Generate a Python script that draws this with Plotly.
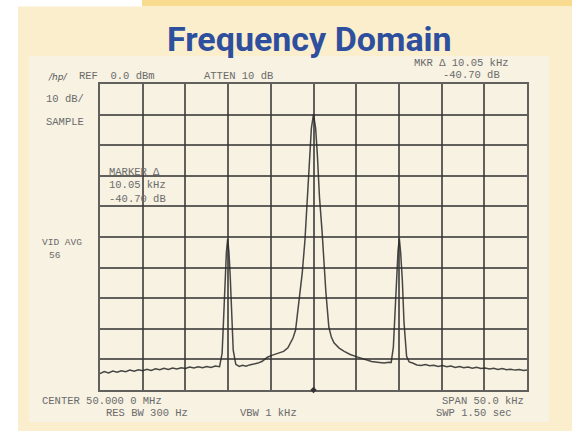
import plotly.graph_objects as go

W, H = 572, 437

# ---------------- data ----------------
# frequency offset from center (kHz), amplitude (dBm)
freq_khz = [
    -25.0, -24.5, -24.0, -23.5, -23.0, -22.5, -22.0, -21.5, -21.0, -20.5,
    -20.0, -19.5, -19.0, -18.5, -18.0, -17.5, -17.0, -16.5, -16.0, -15.5,
    -15.0, -14.5, -14.0, -13.5, -13.0, -12.5, -12.0, -11.5, -11.0,
    -10.7, -10.5, -10.35, -10.2, -10.05, -9.9, -9.75, -9.6, -9.4, -9.1,
    -8.7, -8.3, -7.9, -7.5, -7.0, -6.5, -6.0, -5.4, -4.8, -4.2, -3.5,
    -3.0, -2.7, -2.4, -2.1, -1.76, -1.32, -1.0, -0.7, -0.45, -0.25, 0.0,
    0.25, 0.45, 0.7, 1.0, 1.2, 1.45, 1.8, 2.1, 2.4, 3.0, 3.6, 4.3, 5.0,
    5.9, 6.8, 7.7, 8.3, 8.8, 9.1,
    9.35, 9.55, 9.75, 9.9, 10.05, 10.2, 10.4, 10.6, 10.9, 11.2,
    11.6, 12.1, 12.6, 13.1, 13.6, 14.1, 14.6, 15.1, 15.6, 16.1, 16.6,
    17.1, 17.6, 18.1, 18.6, 19.1, 19.6, 20.1, 20.6, 21.1, 21.6, 22.1,
    22.6, 23.1, 23.6, 24.1, 24.6, 25.0,
]
level_dbm = [
    -94.6, -94.0, -94.4, -93.8, -94.2, -93.7, -94.0, -93.5, -93.9, -93.4,
    -93.7, -93.2, -93.6, -93.1, -93.4, -92.9, -93.3, -92.8, -93.1, -92.7,
    -93.0, -92.5, -92.8, -92.4, -92.7, -92.3, -92.6, -92.2, -92.4,
    -88.0, -75.0, -63.0, -55.0, -50.7, -55.0, -63.0, -75.0, -87.0, -91.6,
    -92.3, -91.9, -92.2, -91.8, -91.6, -91.2, -90.6, -89.3, -88.6, -88.0, -87.4,
    -86.2, -84.8, -83.0, -80.4, -71.6, -61.8, -51.0, -37.0, -23.0, -14.5, -9.8,
    -14.5, -23.0, -37.0, -48.0, -58.0, -68.0, -79.5, -82.8, -84.6, -86.3, -87.4, -88.4, -89.1,
    -90.0, -90.7, -91.0, -91.2, -90.9, -91.0,
    -86.0, -73.0, -61.0, -54.5, -50.5, -55.0, -64.0, -78.0, -89.0, -90.8,
    -91.2, -91.8, -92.0, -91.7, -92.1, -91.9, -92.3, -92.0, -92.4, -92.2, -92.6,
    -92.3, -92.7, -92.5, -92.9, -92.6, -93.0, -92.8, -93.1, -92.9, -93.3, -93.0,
    -93.4, -93.2, -93.5, -93.3, -93.6, -93.5,
]

x_ticks = [-25, -20, -15, -10, -5, 0, 5, 10, 15, 20, 25]
y_ticks = [0, -10, -20, -30, -40, -50, -60, -70, -80, -90, -100]

title_text = "Frequency Domain"
header_left = ["REF  0.0 dBm", "ATTEN 10 dB"]
header_right = ["MKR \u0394 10.05 kHz", "-40.70 dB"]
side_labels = ["10 dB/", "SAMPLE", "VID AVG", "56"]
marker_box = ["MARKER \u0394", "10.05 kHz", "-40.70 dB"]
footer_labels = ["CENTER 50.000 0 MHz", "RES BW 300 Hz", "VBW 1 kHz",
                 "SPAN 50.0 kHz", "SWP 1.50 sec"]


def px(x):
    return x / W


def py(y):
    return 1 - y / H


fig = go.Figure()
fig.add_trace(go.Scatter(
    x=freq_khz, y=level_dbm, mode="lines",
    line=dict(color="rgba(40,40,40,0.85)", width=1.5),
    hoverinfo="skip", showlegend=False,
))
# marker symbol at bottom centre
fig.add_trace(go.Scatter(
    x=[0], y=[-100], mode="markers",
    marker=dict(symbol="diamond", size=5, color="#333"),
    showlegend=False, hoverinfo="skip", cliponaxis=False,
))

grid_col = "rgba(55,55,55,0.78)"
fig.update_xaxes(
    domain=[px(100), px(527)], range=[-25, 25], tickvals=x_ticks,
    showticklabels=False, showgrid=True, gridcolor=grid_col, gridwidth=1.5,
    zeroline=False, showline=True, linecolor=grid_col, linewidth=1.5,
    mirror=True, ticks="",
)
fig.update_yaxes(
    domain=[py(390), py(84)], range=[-100, 0], tickvals=y_ticks,
    showticklabels=False, showgrid=True, gridcolor=grid_col, gridwidth=1.5,
    zeroline=False, showline=True, linecolor=grid_col, linewidth=1.5,
    mirror=True, ticks="",
)

shapes = [
    # orange top stripe
    dict(type="rect", xref="paper", yref="paper", x0=px(142), x1=px(572),
         y0=py(6.5), y1=py(0), fillcolor="#F9DB90", line_width=0, layer="below"),
    # cream panel
    dict(type="rect", xref="paper", yref="paper", x0=px(18), x1=px(572),
         y0=py(431), y1=py(6.5), fillcolor="#FBEECC", line_width=0, layer="below"),
    # photo area
    dict(type="rect", xref="paper", yref="paper", x0=px(29), x1=px(549),
         y0=py(422), y1=py(56), fillcolor="#F7F2E2", line_width=0, layer="below"),
]

mono = "Liberation Mono, DejaVu Sans Mono, monospace"
tcol = "#6b6b6b"
tsize = 10.5


def lab(text, x, y, anchor="left", size=tsize):
    return dict(text=text, x=px(x), y=py(y), xref="paper", yref="paper",
                xanchor=anchor, yanchor="middle", showarrow=False,
                font=dict(family=mono, size=size, color=tcol))


annotations = [
    dict(text=title_text, x=px(309), y=py(39), xref="paper", yref="paper",
         xanchor="center", yanchor="middle", showarrow=False,
         font=dict(family="Liberation Sans Narrow, Arial Narrow, Roboto, sans-serif",
                   size=34, color="#2E4E9E", weight="bold")),
    dict(text="<i>/hp/</i>", x=px(46), y=py(77), xref="paper", yref="paper",
         xanchor="left", yanchor="middle", showarrow=False,
         font=dict(family="DejaVu Sans", size=9, color="#555")),
    lab(header_left[0], 77, 76),
    lab(header_left[1], 202, 76),
    lab(header_right[0], 412, 63),
    lab(header_right[1], 441, 75),
    lab(side_labels[0], 44, 99),
    lab(side_labels[1], 44, 122),
    lab(side_labels[2], 40, 242, size=9.5),
    lab(side_labels[3], 47, 255, size=9.5),
    lab(marker_box[0], 107, 172),
    lab(marker_box[1], 107, 185),
    lab(marker_box[2], 107, 199),
    lab(footer_labels[0], 40, 401),
    lab(footer_labels[1], 104, 413),
    lab(footer_labels[2], 238, 413),
    lab(footer_labels[3], 526, 401, anchor="right"),
    lab(footer_labels[4], 514, 413, anchor="right"),
]

fig.update_layout(
    width=W, height=H, margin=dict(l=0, r=0, t=0, b=0, pad=0),
    paper_bgcolor="white", plot_bgcolor="rgba(0,0,0,0)",
    shapes=shapes, annotations=annotations, showlegend=False,
)

fig.write_html(
    "out.html",
    config={"displayModeBar": False},
    post_script="document.documentElement.style.margin='0';"
                "document.body.style.margin='0';"
                "document.body.style.overflow='hidden';",
)
